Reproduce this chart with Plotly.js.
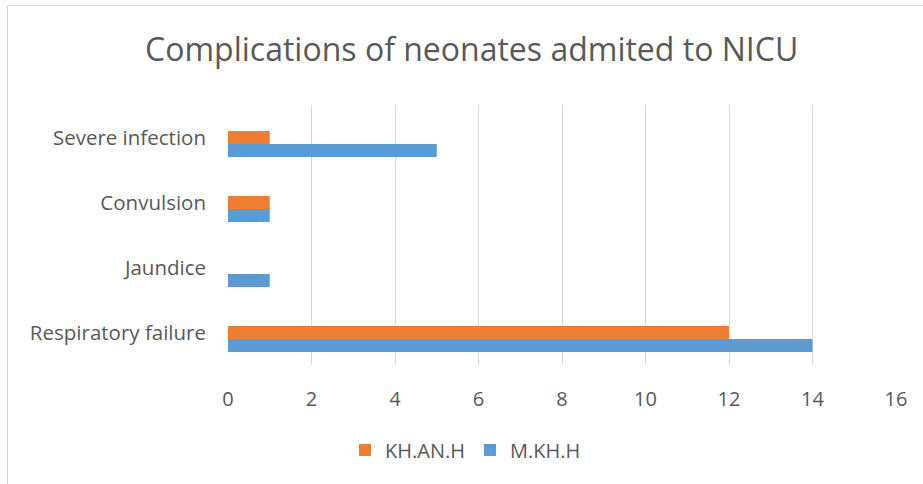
<!DOCTYPE html>
<html>
<head>
<meta charset="utf-8">
<script src="https://cdn.plot.ly/plotly-3.0.1.min.js"></script>
<style>
html,body{margin:0;padding:0;background:#fff;overflow:hidden;}
#wrap{position:relative;width:923px;height:484px;}
#chart{position:absolute;left:0;top:0;width:923px;height:484px;}
#frame{position:absolute;left:7px;top:5px;width:1000px;height:1000px;border:1.5px solid #d9d9d9;pointer-events:none;box-sizing:border-box;}
</style>
</head>
<body>
<div id="wrap"><div id="chart"></div><div id="frame"></div></div>
<script>
const categories = ["Respiratory failure", "Jaundice", "Convulsion", "Severe infection"];
const seriesMKHH = [14, 1, 1, 5];
const seriesKHANH = [12, 0, 1, 1];
const seriesEmpty = [null, null, null, null];
const xTicks = [0, 2, 4, 6, 8, 10, 12, 14, 16];

const font = "Open Sans, Liberation Sans, sans-serif";
const traces = [
  {type:'bar', orientation:'h', name:'M.KH.H', y:categories, x:seriesMKHH,
   marker:{color:'#5B9BD5'}, hoverinfo:'x+name'},
  {type:'bar', orientation:'h', name:'KH.AN.H', y:categories, x:seriesKHANH,
   marker:{color:'#ED7D31'}, hoverinfo:'x+name'},
  {type:'bar', orientation:'h', name:'', y:categories, x:seriesEmpty,
   marker:{color:'rgba(0,0,0,0)'}, showlegend:false, hoverinfo:'skip'}
];
const layout = {
  width:923, height:484,
  margin:{l:228, r:27, t:105, b:119},
  paper_bgcolor:'#fff', plot_bgcolor:'#fff',
  barmode:'group', bargap:0.4, bargroupgap:0,
  title:{text:'Complications of neonates admited to NICU', font:{family:font, size:32, color:'#595959'},
    xref:'container', x:0.511, xanchor:'center', yref:'container', y:1-50/484, yanchor:'middle'},
  xaxis:{range:[0,16], tickvals:xTicks, ticktext:xTicks.map(String), showgrid:true, gridcolor:'#d9d9d9', gridwidth:1,
    zeroline:false, showline:false, ticks:'', ticklabelstandoff:20,
    tickfont:{family:font, size:20, color:'#595959'}, fixedrange:true},
  yaxis:{type:'category', categoryorder:'array', categoryarray:categories, showgrid:false, zeroline:false, showline:false,
    ticks:'', ticklabelstandoff:21, tickfont:{family:font, size:20.5, color:'#595959'}, fixedrange:true},
  showlegend:true,
  legend:{orientation:'h', traceorder:'reversed', xref:'container', x:345/923, xanchor:'left',
    yref:'container', y:1-450/484, yanchor:'middle', font:{family:font, size:20, color:'#595959'},
    itemwidth:30, bgcolor:'rgba(0,0,0,0)'},
  font:{family:font}
};
Plotly.newPlot('chart', traces, layout, {displayModeBar:false, staticPlot:true});
</script>
</body>
</html>
